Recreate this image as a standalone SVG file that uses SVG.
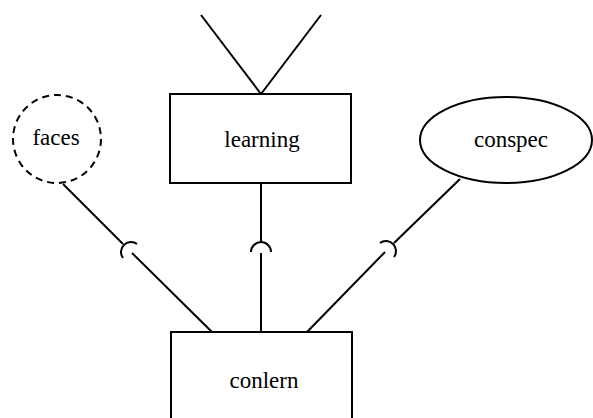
<svg xmlns="http://www.w3.org/2000/svg" width="593" height="418" viewBox="0 0 593 418">
<style>
.shape{fill:#fff;stroke:#000;stroke-width:2}
.dash{fill:#fff;stroke:#000;stroke-width:2;stroke-dasharray:7 5}
.ln{fill:none;stroke:#000;stroke-width:2}
.lbl{font-family:"Liberation Serif","Times New Roman",serif;font-size:23px;fill:#000;text-anchor:middle}
</style>
<rect width="593" height="418" fill="#fff"/>
<g id="connectors">
<line class="ln" x1="201" y1="15" x2="261" y2="94"/>
<line class="ln" x1="321" y1="15" x2="261" y2="94"/>
<line class="ln" x1="63" y1="184" x2="123" y2="244"/>
<path class="ln" d="M137,244 A10 10 0 0 0 123,258"/>
<line class="ln" x1="132" y1="253" x2="212" y2="332"/>
<line class="ln" x1="261" y1="183" x2="261" y2="242"/>
<path class="ln" d="M271,252 A10 10 0 0 0 251,252"/>
<line class="ln" x1="261" y1="253" x2="261" y2="332"/>
<line class="ln" x1="460" y1="179" x2="394" y2="243"/>
<path class="ln" d="M394,257 A10 10 0 0 0 380,243"/>
<line class="ln" x1="385" y1="252" x2="307" y2="332"/>
</g>
<g id="learning">
<rect class="shape" x="170" y="94" width="181" height="89"/>
<text class="lbl" x="262" y="147">learning</text>
</g>
<g id="faces">
<circle class="dash" cx="57" cy="139" r="44"/>
<text class="lbl" x="56" y="145">faces</text>
</g>
<g id="conspec">
<ellipse class="shape" cx="506" cy="140" rx="86" ry="43"/>
<text class="lbl" x="511" y="147">conspec</text>
</g>
<g id="conlern">
<rect class="shape" x="171" y="332" width="181" height="100"/>
<text class="lbl" x="264" y="388">conlern</text>
</g>
</svg>
